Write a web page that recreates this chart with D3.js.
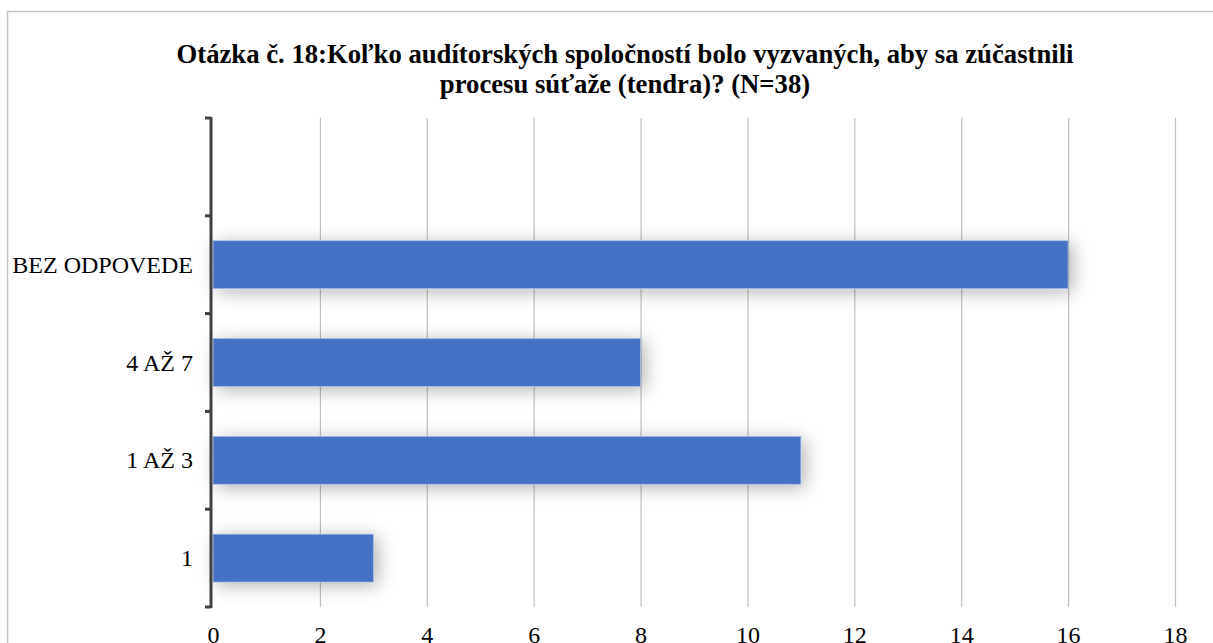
<!DOCTYPE html>
<html>
<head>
<meta charset="utf-8">
<script src="https://cdn.jsdelivr.net/npm/d3@7"></script>
<style>
  html, body { margin: 0; padding: 0; background: #fff; }
  svg { display: block; }
</style>
</head>
<body>
<svg id="chart" width="1213" height="643"></svg>
<script>
// Response categories, bottom to top (the top slot is an empty category)
const categories = ["1", "1 AŽ 3", "4 AŽ 7", "BEZ ODPOVEDE", ""];
const counts = [3, 11, 8, 16, null];
const xTicks = [0, 2, 4, 6, 8, 10, 12, 14, 16, 18];
const titleLines = [
  "Otázka č. 18:Koľko audítorských spoločností bolo vyzvaných, aby sa zúčastnili",
  "procesu súťaže (tendra)? (N=38)"
];

const svg = d3.select("#chart");
const W = 1213, H = 643;
const plot = { left: 213, right: 1175, top: 118, bottom: 607 };
const serif = "'Liberation Serif', 'Times New Roman', serif";

// outer chart frame
svg.append("rect")
  .attr("x", 7.5).attr("y", 11.5)
  .attr("width", W).attr("height", H)
  .attr("fill", "#fff").attr("stroke", "#c4c4c4").attr("stroke-width", 1.5);

const defs = svg.append("defs");
const f = defs.append("filter").attr("id", "barShadow")
  .attr("x", "-20%").attr("y", "-80%").attr("width", "140%").attr("height", "260%");
f.append("feDropShadow")
  .attr("dx", 4).attr("dy", 3).attr("stdDeviation", 9)
  .attr("flood-color", "#000").attr("flood-opacity", 0.3);

const x = d3.scaleLinear().domain([0, 18]).range([plot.left, plot.right]);
const y = d3.scaleBand()
  .domain(categories.map((c, i) => i))
  .range([plot.bottom, plot.top])
  .paddingInner(0.51).paddingOuter(0.255);

// vertical gridlines
svg.append("g").selectAll("line")
  .data(xTicks.filter(t => t > 0))
  .join("line")
  .attr("x1", d => x(d) + 0.5).attr("x2", d => x(d) + 0.5)
  .attr("y1", plot.top).attr("y2", plot.bottom)
  .attr("stroke", "#c0c0c0").attr("stroke-width", 1.2);

// bars
svg.append("g").selectAll("rect")
  .data(counts.map((v, i) => ({ v, i })).filter(d => d.v != null))
  .join("rect")
  .attr("x", x(0))
  .attr("y", d => y(d.i))
  .attr("width", d => x(d.v) - x(0))
  .attr("height", y.bandwidth())
  .attr("fill", "#4472c4")
  .attr("stroke", "#a9bde3").attr("stroke-width", 0.8)
  .attr("filter", "url(#barShadow)");

// category axis with outward ticks at band boundaries
const yAxisG = svg.append("g");
const step = (plot.bottom - plot.top) / categories.length;
const boundaries = d3.range(categories.length + 1).map(k => plot.bottom - k * step);
yAxisG.append("line")
  .attr("x1", 211).attr("x2", 211)
  .attr("y1", plot.top - 1).attr("y2", plot.bottom + 1)
  .attr("stroke", "#404040").attr("stroke-width", 3);
yAxisG.selectAll("line.tick")
  .data(boundaries)
  .join("line").attr("class", "tick")
  .attr("x1", 205).attr("x2", 211)
  .attr("y1", d => d).attr("y2", d => d)
  .attr("stroke", "#404040").attr("stroke-width", 3);
yAxisG.selectAll("text")
  .data(categories.map((c, i) => ({ c, i })))
  .join("text")
  .attr("x", 193)
  .attr("y", d => y(d.i) + y.bandwidth() / 2 + 8)
  .attr("text-anchor", "end")
  .attr("font-family", serif).attr("font-size", 24)
  .attr("fill", "#000")
  .text(d => d.c);

// value axis labels (baseline sits at the lower edge)
const xAxis = d3.axisBottom(x).tickValues(xTicks).tickSize(0).tickPadding(0);
const xg = svg.append("g").attr("transform", `translate(0, 643)`).call(xAxis);
xg.select(".domain").remove();
xg.selectAll("text")
  .attr("font-family", serif).attr("font-size", 24)
  .attr("fill", "#000").attr("y", 0).attr("dy", 0);

// title
svg.append("g").selectAll("text")
  .data(titleLines)
  .join("text")
  .attr("x", 625)
  .attr("y", (d, i) => 63 + i * 30)
  .attr("text-anchor", "middle")
  .attr("font-family", serif).attr("font-weight", "bold").attr("font-size", 26.7)
  .attr("fill", "#000")
  .text(d => d);
</script>
</body>
</html>
